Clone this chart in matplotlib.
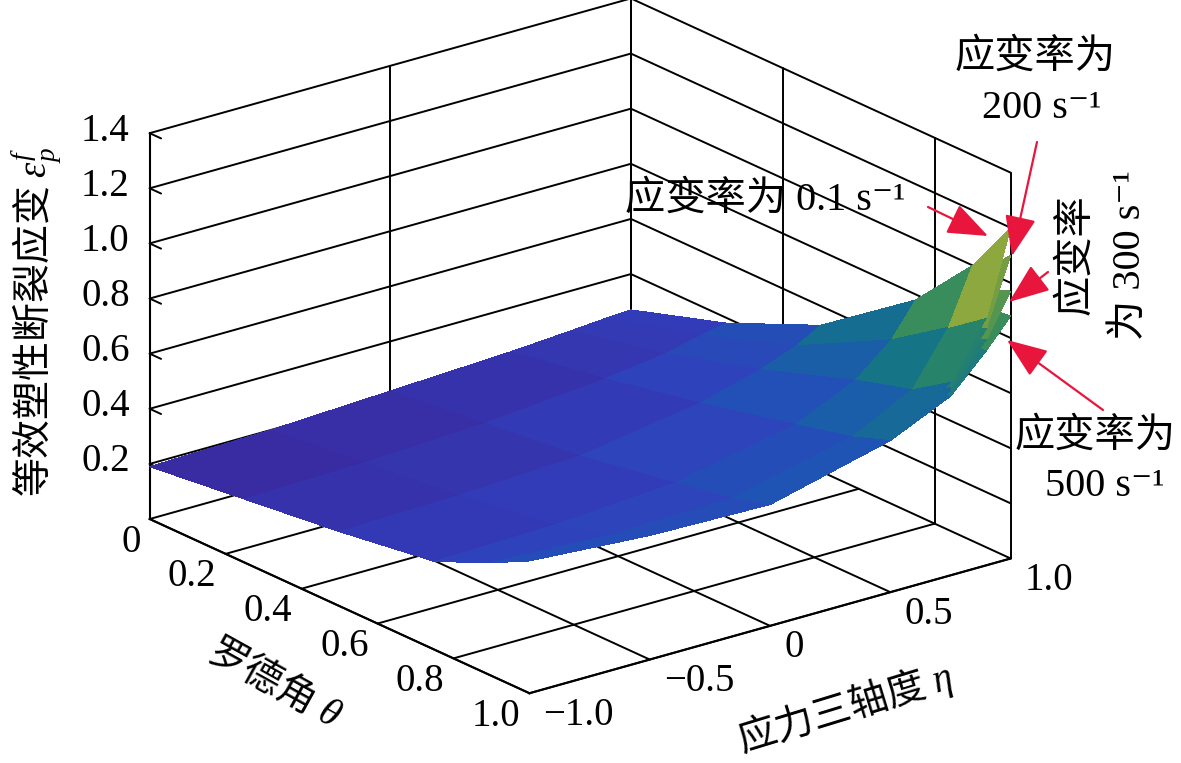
import numpy as np
import matplotlib
matplotlib.use('Agg')
import matplotlib.pyplot as plt
from matplotlib.colors import LinearSegmentedColormap, Normalize
from mpl_toolkits.mplot3d import proj3d

# ---------------- data ----------------
theta = [0.0, 0.25, 0.5, 0.75, 0.9, 1.0]          # Lode angle
eta = [-1.0, -0.5, 0.0, 0.5, 0.75, 0.9, 1.0]      # stress triaxiality

# equivalent plastic fracture strain, rows = theta, cols = eta
eps_01 = [[0.19, 0.20, 0.22, 0.24, 0.255, 0.265, 0.27],
          [0.23, 0.24, 0.26, 0.30, 0.33, 0.36, 0.38],
          [0.27, 0.28, 0.30, 0.37, 0.43, 0.48, 0.53],
          [0.32, 0.33, 0.36, 0.45, 0.55, 0.66, 0.78],
          [0.41, 0.39, 0.40, 0.50, 0.61, 0.80, 1.00],
          [0.48, 0.45, 0.44, 0.55, 0.70, 0.90, 1.20]]
eps_200 = [[0.19, 0.20, 0.22, 0.24, 0.255, 0.265, 0.27],
           [0.23, 0.24, 0.26, 0.30, 0.33, 0.36, 0.38],
           [0.27, 0.28, 0.30, 0.37, 0.43, 0.48, 0.53],
           [0.32, 0.33, 0.36, 0.45, 0.55, 0.66, 0.78],
           [0.41, 0.39, 0.40, 0.50, 0.61, 0.78, 0.96],
           [0.48, 0.45, 0.44, 0.55, 0.68, 0.86, 1.10]]
eps_300 = [[0.19, 0.20, 0.22, 0.24, 0.255, 0.265, 0.27],
           [0.23, 0.24, 0.26, 0.30, 0.33, 0.36, 0.38],
           [0.27, 0.28, 0.30, 0.37, 0.43, 0.48, 0.53],
           [0.32, 0.33, 0.36, 0.45, 0.55, 0.66, 0.77],
           [0.41, 0.39, 0.40, 0.50, 0.61, 0.76, 0.92],
           [0.48, 0.45, 0.44, 0.55, 0.67, 0.82, 0.97]]
eps_500 = [[0.19, 0.20, 0.22, 0.24, 0.255, 0.265, 0.27],
           [0.23, 0.24, 0.26, 0.30, 0.33, 0.36, 0.38],
           [0.27, 0.28, 0.30, 0.37, 0.43, 0.48, 0.53],
           [0.32, 0.33, 0.36, 0.45, 0.55, 0.65, 0.75],
           [0.41, 0.39, 0.40, 0.50, 0.60, 0.73, 0.86],
           [0.48, 0.45, 0.44, 0.55, 0.65, 0.78, 0.88]]

# drawing order: lowest surface first
surfaces = [eps_500, eps_300, eps_200, eps_01]

theta_ticks = [0.0, 0.2, 0.4, 0.6, 0.8, 1.0]
theta_labels = ['0', '0.2', '0.4', '0.6', '0.8', '1.0']
eta_ticks = [-1.0, -0.5, 0.0, 0.5, 1.0]
eta_labels = ['\u22121.0', '\u22120.5', '0', '0.5', '1.0']
z_ticks = [0.2, 0.4, 0.6, 0.8, 1.0, 1.2, 1.4]
z_labels = ['0.2', '0.4', '0.6', '0.8', '1.0', '1.2', '1.4']

floor_theta_grid = [0.2, 0.4, 0.6, 0.8]
floor_eta_grid = [-0.5, 0.0, 0.5]
left_wall_eta_grid = [-1.0, 0.0, 1.0]
right_wall_theta_grid = [0.0, 0.4, 0.8, 1.0]
wall_z_grid = [0.2, 0.4, 0.6, 0.8, 1.0, 1.2, 1.4]

# ---------------- style ----------------
plt.rcParams['font.family'] = ['Liberation Serif', 'DejaVu Serif', 'Noto Sans CJK SC']
plt.rcParams['mathtext.fontset'] = 'custom'
plt.rcParams['mathtext.rm'] = 'Liberation Serif'
plt.rcParams['mathtext.it'] = 'Liberation Serif:italic'
plt.rcParams['mathtext.bf'] = 'Liberation Serif:bold'
plt.rcParams['axes.unicode_minus'] = True

cmap = LinearSegmentedColormap.from_list('parula_like', [
    (0.00, (0.23, 0.16, 0.62)),
    (0.15, (0.19, 0.25, 0.74)),
    (0.30, (0.11, 0.34, 0.70)),
    (0.45, (0.08, 0.45, 0.54)),
    (0.60, (0.19, 0.54, 0.37)),
    (0.75, (0.50, 0.63, 0.24)),
    (0.90, (0.80, 0.80, 0.28)),
    (1.00, (0.93, 0.93, 0.55))])
allz = np.array(surfaces)
norm = Normalize(vmin=allz.min(), vmax=allz.max())

W, H = 1181, 763
fig = plt.figure(figsize=(W / 100, H / 100), dpi=100)
fig.patch.set_facecolor('white')
POS0 = [-0.3, -0.55, 1.6, 2.1]   # big square drawing area so nothing is clipped
ax = fig.add_axes(POS0, projection='3d', computed_zorder=False)
ax.set_proj_type('ortho')
ax.view_init(elev=21, azim=-38)
ASPECT = (1.0, 0.99, 0.67)
ax.set_box_aspect(ASPECT, zoom=1.0)

def setlim(f, a, b):
    try:
        f(a, b, view_margin=0)
    except TypeError:
        f(a, b)

setlim(ax.set_xlim, 0, 1)
setlim(ax.set_ylim, -1, 1)
setlim(ax.set_zlim, 0, 1.4)

for axis in (ax.xaxis, ax.yaxis, ax.zaxis):
    axis.set_pane_color((1, 1, 1, 0))
    axis.pane.set_edgecolor('k')
    axis.pane.set_linewidth(1.5)
    axis.line.set_linewidth(1.5)
    axis._axinfo['tick']['inward_factor'] = 0.0
    axis._axinfo['tick']['outward_factor'] = 0.0
ax.zaxis.set_ticks_position('lower')
ax.zaxis.set_label_position('lower')
ax.grid(False)

ax.set_xticks(theta_ticks)
ax.set_yticks(eta_ticks)
ax.set_zticks(z_ticks)
ax.set_xticklabels([])
ax.set_yticklabels([])
ax.set_zticklabels([])

# grid lines and box edges on floor and back walls
gkw = dict(color='k', lw=1.4, zorder=1, solid_capstyle='round')
for t in floor_theta_grid:
    ax.plot([t, t], [-1, 1], [0, 0], **gkw)
for e in floor_eta_grid:
    ax.plot([0, 1], [e, e], [0, 0], **gkw)
ax.plot([0, 0], [-1, 1], [0, 0], **gkw)
ax.plot([0, 1], [1, 1], [0, 0], **gkw)
ax.plot([0, 1], [-1, -1], [0, 0], **gkw)
ax.plot([1, 1], [-1, 1], [0, 0], **gkw)
for e in left_wall_eta_grid:
    ax.plot([0, 0], [e, e], [0, 1.4], **gkw)
for t in right_wall_theta_grid:
    ax.plot([t, t], [1, 1], [0, 1.4], **gkw)
for z in wall_z_grid:
    ax.plot([0, 0], [-1, 1], [z, z], **gkw)
    ax.plot([0, 1], [1, 1], [z, z], **gkw)
# small inward tick stubs on the z axis
for z in z_ticks:
    ax.plot([0, 0.03], [-1, -1], [z, z], **gkw)

T, E = np.meshgrid(theta, eta, indexing='ij')
for i, Z in enumerate(surfaces):
    ax.plot_surface(T, E, np.array(Z), cmap=cmap, norm=norm, linewidth=0,
                    antialiased=False, zorder=3 + i)

# ---------------- fit the box onto the reference layout ----------------
box_pts = [(0, -1, 0), (1, -1, 0), (1, 1, 0), (0, -1, 1.4), (0, 1, 1.4), (1, 1, 1.4)]
box_target = np.array([(148, 519), (527, 693), (1009, 558), (148, 133), (640, 0), (1009, 172)], float)
box_target[:, 1] = H - box_target[:, 1]

def to_display(x, y, z):
    xs, ys, _ = proj3d.proj_transform(x, y, z, ax.get_proj())
    return ax.transData.transform((xs, ys))

def projected():
    fig.canvas.draw()
    return np.array([to_display(*p) for p in box_pts])

P = projected()
Pc = P - P.mean(axis=0)
Tc = box_target - box_target.mean(axis=0)
s = (Pc * Tc).sum() / (Pc * Pc).sum()
ax.set_box_aspect(ASPECT, zoom=s)
P = projected()
d = (box_target - P).mean(axis=0)
ax.set_position([POS0[0] + d[0] / W, POS0[1] + d[1] / H, POS0[2], POS0[3]])
fig.canvas.draw()

# ---------------- tick labels and axis titles ----------------
tfam = ['Liberation Serif', 'DejaVu Serif', 'Noto Sans CJK SC']
FS = 28

def put(px, py, s, ha='center', va='center', rot=0, fs=FS, fam=tfam):
    fig.text(px / W, py / H, s, fontsize=fs, family=fam, ha=ha, va=va,
             rotation=rot, rotation_mode='anchor')

for t, lab in zip(theta_ticks, theta_labels):
    px, py = to_display(t, -1, 0)
    put(px - 9, py - 23, lab, ha='right')
for e, lab in zip(eta_ticks, eta_labels):
    px, py = to_display(1, e, 0)
    put(px + 14, py - 22, lab, ha='left')
for z, lab in zip(z_ticks, z_labels):
    px, py = to_display(0, -1, z)
    put(px - 20, py + 2, lab, ha='right')

cjk = 'Noto Sans CJK SC'
put(275, H - 683, '罗德角 $\\theta$', rot=-29, fam=cjk)
put(845, H - 708, '应力三轴度 $\\eta$', rot=17, fam=cjk)
put(37, H - 322, '等效塑性断裂应变 $\\varepsilon_p^f$', rot=90, fam=cjk)

# ---------------- annotations (figure pixel coords, y from top) ----------------
red = '#e8163c'

def Pp(x, y):
    return (x, H - y)

def arrow(tail, tip):
    fig.add_artist(matplotlib.patches.FancyArrowPatch(
        Pp(*tail), Pp(*tip), transform=None,
        arrowstyle='-|>,head_length=0.9,head_width=0.35',
        color=red, lw=1.6, mutation_scale=28, shrinkA=0, shrinkB=0))

def label(x, y, s, rot=0):
    fig.text(x / W, 1 - y / H, s, fontsize=29, family=tfam, ha='center',
             va='center', rotation=rot)

label(765, 200, '应变率为 0.1 s\u207b\u00b9')
arrow((928, 207), (988, 236))
label(1035, 58, '应变率为')
label(1042, 108, '200 s\u207b\u00b9')
arrow((1037, 142), (1012, 256))
label(1077, 255, '应变率', rot=90)
label(1130, 255, '为 300 s\u207b\u00b9', rot=90)
arrow((1048, 272), (1009, 302))
label(1095, 437, '应变率为')
label(1105, 487, '500 s\u207b\u00b9')
arrow((1103, 410), (1007, 340))

fig.savefig('out.png', dpi=100, facecolor='white')
